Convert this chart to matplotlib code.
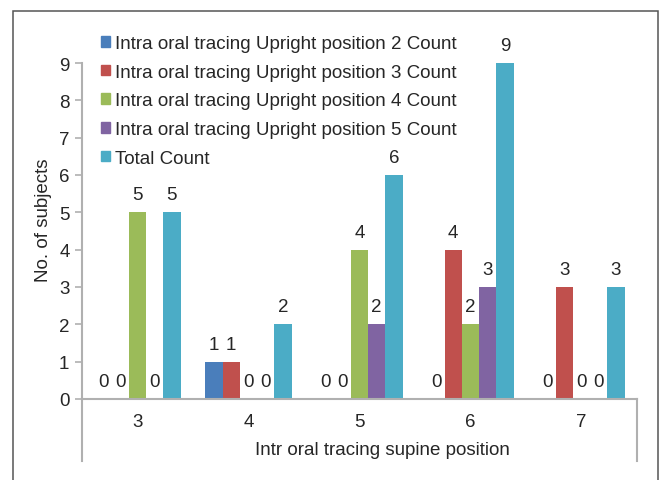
import matplotlib.pyplot as plt
import matplotlib.patches as mpatches
from matplotlib.lines import Line2D
import numpy as np

plt.rcParams['font.family'] = ['Liberation Sans', 'DejaVu Sans']

categories = ['3', '4', '5', '6', '7']
series_names = ['Intra oral tracing Upright position 2 Count',
                'Intra oral tracing Upright position 3 Count',
                'Intra oral tracing Upright position 4 Count',
                'Intra oral tracing Upright position 5 Count',
                'Total Count']
pos2 = [0, 1, 0, 0, 0]
pos3 = [0, 1, 0, 4, 3]
pos4 = [5, 0, 4, 2, 0]
pos5 = [0, 0, 2, 3, 0]
total = [5, 2, 6, 9, 3]
colors = ['#4a7ebb', '#c0504d', '#9bbb59', '#8064a2', '#4bacc6']

txt = '#262626'
axis_gray = '#b0b0b0'
fs = 13.5

fig = plt.figure(figsize=(6.59, 4.81), dpi=100)
ax = fig.add_axes([82/659, 1-400/481, 555/659, 336/481])

# outer frame (runs off the bottom of the picture)
fig.patches.append(mpatches.Rectangle((13/659, -0.1), 645/659, 1-12/481+0.1,
                                      transform=fig.transFigure, fill=False,
                                      edgecolor='#555555', linewidth=1.1))

x = np.arange(len(categories))
w = 0.155
data = [pos2, pos3, pos4, pos5, total]
for k, (vals, c, name) in enumerate(zip(data, colors, series_names)):
    xs = x + (k - 2) * w
    ax.bar(xs, vals, width=w, color=c, label=name, zorder=2)
    for xi, v in zip(xs, vals):
        ax.annotate(str(v), (xi, v), xytext=(0, 12.5), textcoords='offset points',
                    ha='center', va='center', fontsize=fs, color=txt)

ax.set_xlim(-0.5, 4.5)
ax.set_ylim(0, 9)
ax.set_yticks(range(10))
ax.set_xticks(x)
ax.set_xticklabels(categories)
ax.tick_params(axis='x', length=0, pad=10, labelsize=fs, labelcolor=txt)
ax.tick_params(axis='y', length=5, width=1.2, color=axis_gray, pad=4,
               labelsize=fs, labelcolor=txt)

for s in ['top', 'right']:
    ax.spines[s].set_visible(False)
for s in ['left', 'bottom']:
    ax.spines[s].set_color(axis_gray)
    ax.spines[s].set_linewidth(1.5)

# axis lines running below the category axis
for xa in [0, 1]:
    ax.add_line(Line2D([xa, xa], [0, -0.185], transform=ax.transAxes,
                       color=axis_gray, linewidth=1.5, clip_on=False))

ax.set_xlabel('Intr oral tracing supine position', fontsize=fs, color=txt)
ax.xaxis.set_label_coords(0.542, -0.149)
ax.xaxis.label.set_va('center')
ax.set_ylabel('No. of subjects', fontsize=fs, color=txt)
ax.yaxis.set_label_coords(-0.07, 0.536)
ax.yaxis.label.set_va('center')

handles = [mpatches.Patch(color=c) for c in colors]
leg = ax.legend(handles, series_names, loc='upper left',
                bbox_to_anchor=(101/659, 1-36/481), bbox_transform=fig.transFigure,
                frameon=False, fontsize=fs, handlelength=0.5, handleheight=0.5,
                handletextpad=0.25, labelspacing=0.62, borderaxespad=0, borderpad=0)
for t in leg.get_texts():
    t.set_color(txt)

fig.savefig('out.png', dpi=100)
